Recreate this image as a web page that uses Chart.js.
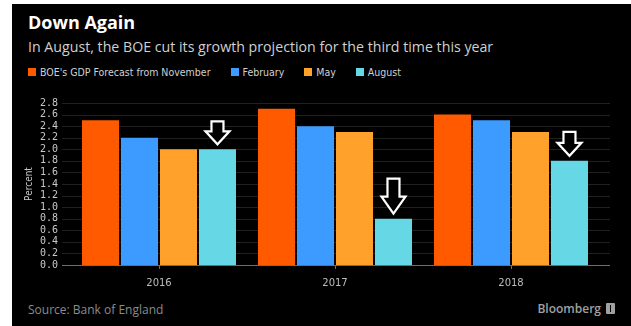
<!DOCTYPE html>
<html>
<head>
<meta charset="utf-8">
<script src="https://cdn.jsdelivr.net/npm/chart.js@4.4.1/dist/chart.umd.min.js"></script>
<style>
    html, body { margin: 0; padding: 0; background: #fff; }
    #panel { position: absolute; left: 12px; top: 4px; width: 619px; height: 322px; background: #000; overflow: hidden; }
    #title { position: absolute; left: 16px; top: 6px; color: #fff; font: bold 18px "Open Sans", sans-serif; }
    #subtitle { position: absolute; left: 16px; top: 33px; color: #d0d0d0; font: 14.2px "Open Sans", sans-serif; }
    #legend { position: absolute; left: 16px; top: 62px; display: flex; color: #d0d0d0; font: 10.5px "DejaVu Sans Condensed", sans-serif; }
    #legend span.item { display: flex; align-items: center; margin-right: 20px; }
    #legend span.box { display: inline-block; width: 8px; height: 8px; margin-right: 4px; }
    #chart-wrap { position: absolute; left: 0; top: 80px; width: 619px; height: 216px; }
    #source { position: absolute; left: 16px; top: 297px; color: #8c8c8c; font: 12px "Open Sans", sans-serif; }
    #brand { position: absolute; right: 16px; top: 296px; color: #a0a0a0; font: 600 12px "Open Sans", sans-serif; display: flex; align-items: center; }
    #brand .logo { display: inline-block; width: 9px; height: 11px; background: #a0a0a0; margin-left: 5px; border-radius: 1px; position: relative; }
    #brand .logo::after { content: ""; position: absolute; left: 4px; top: 2px; width: 1px; height: 7px; background: #000; }
</style>
</head>
<body>
<div id="panel">
    <div id="title">Down Again</div>
    <div id="subtitle">In August, the BOE cut its growth projection for the third time this year</div>
    <div id="legend"></div>
    <div id="chart-wrap"><canvas id="chart" width="619" height="216"></canvas></div>
    <div id="source">Source: Bank of England</div>
    <div id="brand">Bloomberg<span class="logo"></span></div>
</div>
<script>
// Dữ liệu biểu đồ
const years = ['2016', '2017', '2018'];
const seriesNames = ["BOE's GDP Forecast from November", 'February', 'May', 'August'];
const novemberForecast = [2.5, 2.7, 2.6];
const februaryForecast = [2.2, 2.4, 2.5];
const mayForecast = [2.0, 2.3, 2.3];
const augustForecast = [2.0, 0.8, 1.8];
const yTicks = [0, 0.2, 0.4, 0.6, 0.8, 1.0, 1.2, 1.4, 1.6, 1.8, 2.0, 2.2, 2.4, 2.6, 2.8];

const seriesColors = ['#ff5a00', '#3d9bff', '#ffa12b', '#66d7e5'];

// Chú giải HTML
function buildLegend() {
    const legend = document.getElementById('legend');
    seriesNames.forEach((name, i) => {
        const item = document.createElement('span');
        item.className = 'item';
        item.innerHTML = `<span class="box" style="background:${seriesColors[i]}"></span>${name}`;
        legend.appendChild(item);
    });
}

// Lưới ngang kéo dài ra ngoài vùng biểu đồ
const extendedGrid = {
    id: 'extendedGrid',
    beforeDatasetsDraw(chart) {
        const { ctx, chartArea, scales } = chart;
        const y = scales.y;
        ctx.save();
        yTicks.forEach(v => {
            const py = Math.round(y.getPixelForValue(v)) + 0.5;
            ctx.strokeStyle = v === 0 ? '#6e6e6e' : '#202020';
            ctx.lineWidth = 1;
            ctx.beginPath();
            ctx.moveTo(chartArea.left - 9, py);
            ctx.lineTo(chartArea.right + 11, py);
            ctx.stroke();
        });
        ctx.restore();
    }
};

// Mũi tên chỉ xuống phía trên cột tháng 8
const downArrows = {
    id: 'downArrows',
    afterDatasetsDraw(chart, args, opts) {
        const { ctx } = chart;
        const meta = chart.getDatasetMeta(3);
        ctx.save();
        meta.data.forEach((bar, i) => {
            const h = opts.heights[i];
            const headH = h > 30 ? 17 : 13;
            const halfW = 12, halfShaft = 6;
            const tip = bar.y - 5;
            const top = tip - h;
            const headTop = tip - headH;
            const x = bar.x;
            ctx.beginPath();
            ctx.moveTo(x - halfShaft, top);
            ctx.lineTo(x + halfShaft, top);
            ctx.lineTo(x + halfShaft, headTop);
            ctx.lineTo(x + halfW, headTop);
            ctx.lineTo(x, tip);
            ctx.lineTo(x - halfW, headTop);
            ctx.lineTo(x - halfShaft, headTop);
            ctx.closePath();
            ctx.fillStyle = '#000';
            ctx.fill();
            ctx.strokeStyle = '#fff';
            ctx.lineWidth = 2.2;
            ctx.lineJoin = 'miter';
            ctx.stroke();
        });
        ctx.restore();
    }
};

function renderChart() {
    const ctx = document.getElementById('chart').getContext('2d');
    const values = [novemberForecast, februaryForecast, mayForecast, augustForecast];

    new Chart(ctx, {
        type: 'bar',
        data: {
            labels: years,
            datasets: values.map((data, i) => ({
                label: seriesNames[i],
                data: data,
                backgroundColor: seriesColors[i],
                borderWidth: 0,
                categoryPercentage: 0.886,
                barPercentage: 0.95
            }))
        },
        options: {
            responsive: false,
            animation: false,
            layout: { padding: { top: 11, right: 32, left: 0, bottom: 4 } },
            plugins: {
                legend: { display: false },
                tooltip: { enabled: false },
                downArrows: { heights: [23, 35, 24] }
            },
            scales: {
                x: {
                    grid: { display: true, drawOnChartArea: false, drawTicks: true, tickLength: 4, offset: false, color: '#6e6e6e' },
                    border: { display: false },
                    ticks: { color: '#bdbdbd', font: { family: 'DejaVu Sans', size: 10 }, padding: 8 },
                    afterFit(scale) { scale.height = 31; }
                },
                y: {
                    min: 0,
                    max: 2.8,
                    afterBuildTicks(scale) { scale.ticks = yTicks.map(v => ({ value: v })); },
                    grid: { display: false, drawTicks: false },
                    border: { display: false },
                    ticks: {
                        autoSkip: false,
                        color: '#c8c8c8',
                        font: { family: 'DejaVu Sans Mono', size: 10 },
                        padding: 13,
                        callback: v => v.toFixed(1)
                    },
                    title: {
                        display: true,
                        text: 'Percent',
                        color: '#c8c8c8',
                        font: { family: 'DejaVu Sans Condensed', size: 10 },
                        padding: { top: 11, bottom: 0 }
                    },
                    afterFit(scale) { scale.width = 59; }
                }
            }
        },
        plugins: [extendedGrid, downArrows]
    });
}

document.addEventListener('DOMContentLoaded', function() {
    buildLegend();
    renderChart();
});
</script>
</body>
</html>
